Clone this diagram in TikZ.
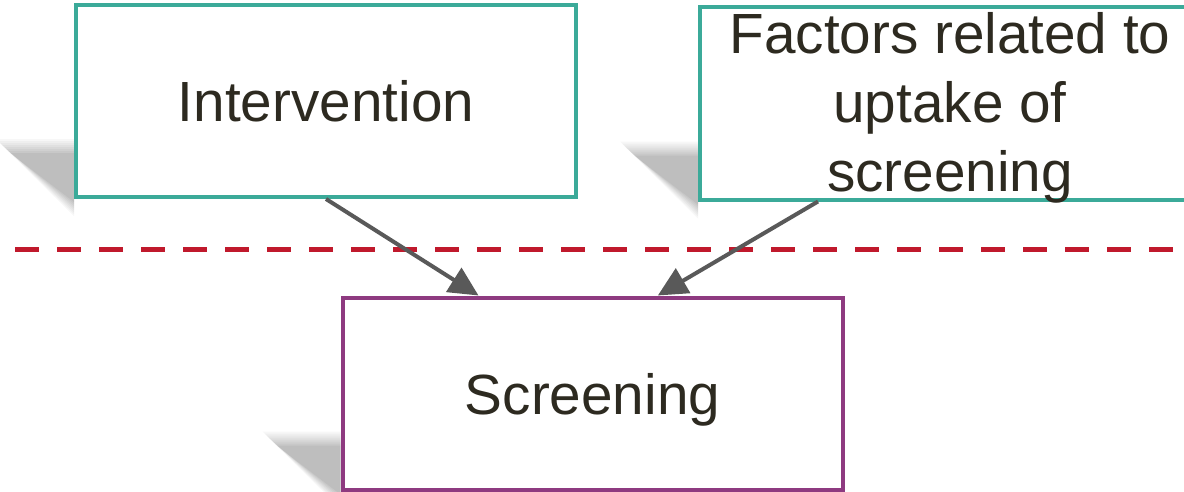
\documentclass[tikz,border=0pt]{standalone}
\usepackage{fontspec}
\setmainfont{Liberation Sans}
\usetikzlibrary{arrows.meta,backgrounds}

\definecolor{tealline}{RGB}{59,170,153}
\definecolor{plumline}{RGB}{142,58,128}
\definecolor{cutred}{RGB}{192,25,44}
\definecolor{arrowgrey}{RGB}{89,89,89}
\definecolor{inktext}{RGB}{45,42,32}

\tikzset{every picture/.style={line width=0.75pt}}
\tikzset{
  factorbox/.style={draw=tealline, line width=3pt, fill=white, text=inktext,
    align=center, inner sep=0pt, minimum width=375pt, minimum height=144pt,
    font=\fontsize{42.5}{52}\selectfont},
  outcomebox/.style={factorbox, draw=plumline, text depth=0pt},
  linkarrow/.style={draw=arrowgrey, line width=3pt, -{Triangle[length=22pt,width=21pt]}},
  cutline/.style={draw=cutred, line width=3.75pt, dash pattern=on 18pt off 13.5pt}
}

% perspective shadow left of a box corner
\newcommand{\boxshadow}[1]{%
  \foreach \g/\op in {14/0.03,12/0.03,10/0.03,8/0.035,6/0.035,4/0.04,2/0.04,0/0.05}{
    \fill[black, opacity=\op] ([shift={(-64-\g,-46-\g)}]#1) -- ([shift={(0,-46-\g)}]#1)
      -- ([shift={(0,3+\g)}]#1) -- cycle;
  }
}

\begin{document}
\begin{tikzpicture}[x=0.75pt,y=0.75pt,yscale=-1,xscale=1]
\useasboundingbox (0,0) rectangle (1184,492);

% boxes
\node[factorbox, text depth=0pt] (interv) at (326,101) {Intervention};
\node[factorbox] (uptake) at (950,103.5) {};
\node[text=inktext, align=center, font=\fontsize{42.5}{52}\selectfont] (uptaketext) at (950,108) {Factors related to\\uptake of\\screening};
\node[outcomebox] (screen) at (592.5,393.5) {Screening};

% shadows
\begin{pgfonlayer}{background}
\boxshadow{interv.south west}
\boxshadow{uptake.south west}
\boxshadow{screen.south west}
\end{pgfonlayer}

% cut line
\draw[cutline] (15,249) -- (1200,249);

% arrows
\draw[linkarrow] (interv.south) -- ([xshift=-85.5pt]screen.north);
\draw[linkarrow] ([xshift=-99pt]uptake.south) -- ([xshift=49pt]screen.north);

\end{tikzpicture}
\end{document}
